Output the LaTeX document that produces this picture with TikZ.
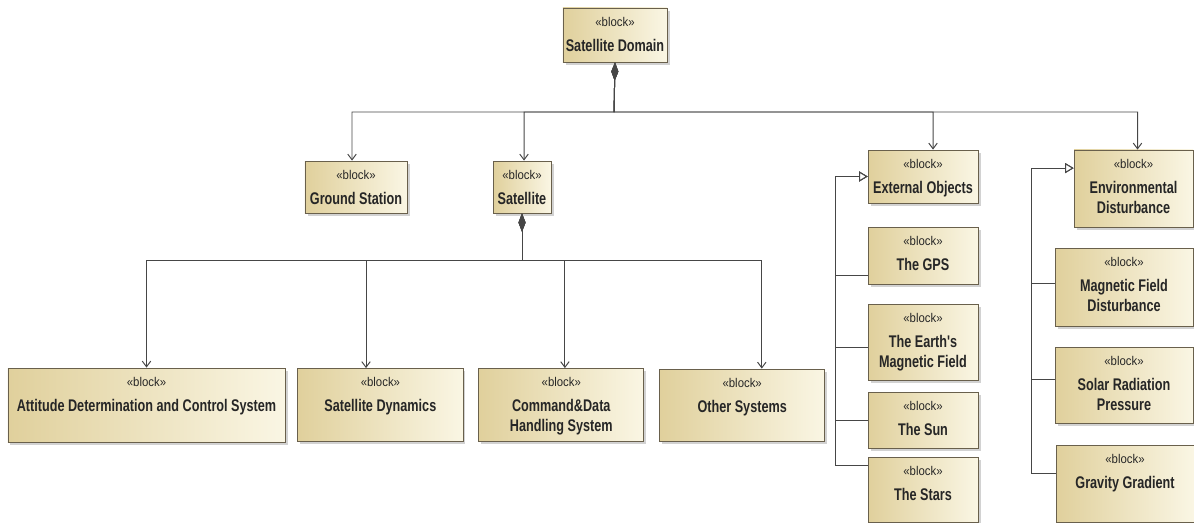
\documentclass[tikz,border=0pt]{standalone}
\usepackage{fontspec}
\setmainfont{Liberation Sans}
\newfontfamily\narrowfont{Liberation Sans}[FakeStretch=0.75]
\newfontfamily\stereofont{Liberation Sans}[FakeStretch=0.9]
\usetikzlibrary{positioning,arrows.meta,shadows}

\definecolor{blkL}{RGB}{224,208,156}
\definecolor{blkR}{RGB}{250,246,228}
\definecolor{blkB}{RGB}{105,96,76}
\definecolor{lien}{RGB}{70,70,70}

\newcommand{\stereo}{\stereofont\fontsize{9}{10}\selectfont}
\newcommand{\bname}{\narrowfont\bfseries\fontsize{12}{14.2}\selectfont}
\newcommand{\blocktxt}[3]{\parbox[c][#2][t]{#1}{\centering\vspace{6.5pt}%
{\stereo «block»}\\[3.6pt]\bname #3\par}}

\begin{document}
\begin{tikzpicture}[
    x=0.025cm, y=-0.025cm,
    blk/.style={draw=blkB, line width=0.6pt, left color=blkL, right color=blkR,
        inner sep=0pt, text=black!85,
        drop shadow={shadow xshift=1.8pt, shadow yshift=-1.8pt, fill=black!35}},
    comp/.style={draw=lien, line width=0.7pt,
        {Diamond[length=13pt,width=5pt]}-{Straight Barb[length=4pt,width=6pt]}},
    gen/.style={draw=lien, line width=0.7pt,
        -{Triangle[open,length=6pt,width=7pt,fill=white]}}
]
\useasboundingbox (0,0) rectangle (1194,522);

% Domaine
\node[blk] (dom) at (615,35) {\blocktxt{2.6cm}{1.35cm}{Satellite Domain}};

% Niveau 1
\node[blk] (gs) at (356,187) {\blocktxt{2.55cm}{1.3cm}{Ground Station}};
\node[blk] (sat) at (522,187) {\blocktxt{1.45cm}{1.3cm}{Satellite}};
\node[blk] (eo) at (923,176.5) {\blocktxt{2.75cm}{1.325cm}{External Objects}};
\node[blk] (env) at (1133.5,188.5) {\blocktxt{2.975cm}{1.925cm}{Environmental\\Disturbance}};

% Sous-systemes du satellite
\node[blk] (adcs) at (146.5,405) {\blocktxt{6.925cm}{1.85cm}{Attitude Determination and Control System}};
\node[blk, right=0.3cm of adcs] (dyn) {\blocktxt{4.125cm}{1.825cm}{Satellite Dynamics}};
\node[blk, right=0.375cm of dyn] (cd) {\blocktxt{4.125cm}{1.825cm}{Command\&Data\\Handling System}};
\node[blk, right=0.375cm of cd] (oth) {\blocktxt{4.125cm}{1.8cm}{Other Systems}};

% Objets externes
\node[blk] (gps) at (923,255.5) {\blocktxt{2.75cm}{1.425cm}{The GPS}};
\node[blk] (earth) at (923,342) {\blocktxt{2.75cm}{1.9cm}{The Earth's\\Magnetic Field}};
\node[blk] (sun) at (923,420) {\blocktxt{2.75cm}{1.4cm}{The Sun}};
\node[blk] (stars) at (923,489.5) {\blocktxt{2.75cm}{1.625cm}{The Stars}};

% Perturbations
\node[blk] (mag) at (1124,287) {\blocktxt{3.45cm}{1.95cm}{Magnetic Field\\Disturbance}};
\node[blk] (solar) at (1124,385) {\blocktxt{3.45cm}{1.9cm}{Solar Radiation\\Pressure}};
\node[blk] (grav) at (1125,483.5) {\blocktxt{3.45cm}{1.925cm}{Gravity Gradient}};

% Liens de composition
\coordinate (domBus) at (614,112);
\coordinate (satBus) at (522,260);
\draw[comp] (dom.south) -- (domBus) -| ([xshift=-0.1cm]gs.north);
\draw[comp] (dom.south) -- (domBus) -| ([xshift=0.05cm]sat.north);
\draw[comp] (dom.south) -- (domBus) -| ([xshift=0.25cm]eo.north);
\draw[comp] (dom.south) -- (domBus) -| ([xshift=0.1cm]env.north);
\draw[comp] (sat.south) -- (satBus) -| (adcs.north);
\draw[comp] (sat.south) -- (satBus) -| ([xshift=-0.36cm]dyn.north);
\draw[comp] (sat.south) -- (satBus) -| ([xshift=0.09cm]cd.north);
\draw[comp] (sat.south) -- (satBus) -| ([xshift=0.49cm]oth.north);

% Liens de generalisation
\coordinate (eoT) at ([xshift=-0.8cm]eo.west);
\coordinate (envT) at ([xshift=-1.05cm,yshift=0.51cm]env.west);
\draw[gen] ([yshift=-0.51cm]gps.west) -| (eoT) -- (eo.west);
\draw[gen] ([yshift=-0.125cm]earth.west) -| (eoT) -- (eo.west);
\draw[gen] (sun.west) -| (eoT) -- (eo.west);
\draw[gen] ([yshift=0.59cm]stars.west) -| (eoT) -- (eo.west);
\draw[gen] ([yshift=0.1cm]mag.west) -| (envT) -- ([yshift=0.51cm]env.west);
\draw[gen] ([yshift=0.15cm]solar.west) -| (envT) -- ([yshift=0.51cm]env.west);
\draw[gen] ([yshift=0.26cm]grav.west) -| (envT) -- ([yshift=0.51cm]env.west);

\end{tikzpicture}
\end{document}
